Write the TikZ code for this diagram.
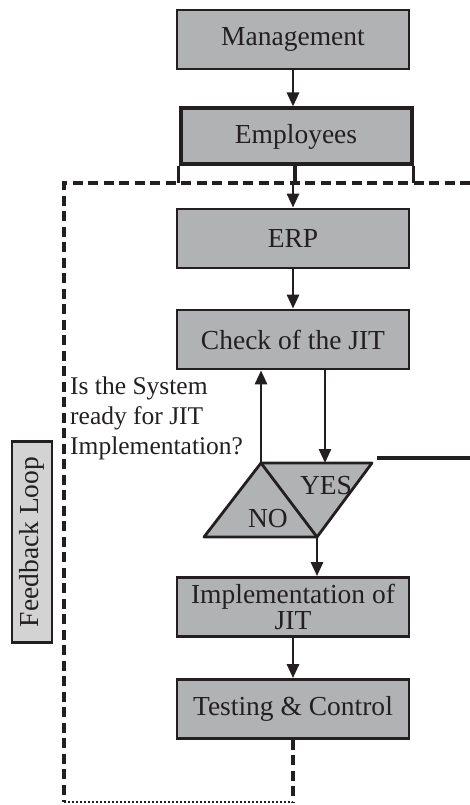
\documentclass[tikz,border=0pt]{standalone}
\usepackage{fontspec}
\setmainfont{Liberation Serif}
\usetikzlibrary{arrows.meta}
\definecolor{boxgray}{HTML}{B1B2B4}
\definecolor{fbgray}{HTML}{D3D3D4}
\definecolor{ink}{HTML}{231F20}
\tikzset{
  stepbox/.style={draw=ink, fill=boxgray, line width=2.8pt, minimum width=232pt, minimum height=59pt, inner sep=2pt, align=center, font=\fontsize{27.5}{27}\selectfont, text=ink},
  arr/.style={draw=ink, line width=2.8pt, -{Triangle[length=14pt,width=12pt]}},
  plain/.style={draw=ink, line width=2.8pt},
  loopdash/.style={draw=ink, line width=3.2pt, dash pattern=on 10pt off 5.5pt},
  loopdot/.style={draw=ink, line width=2.6pt, dash pattern=on 2.2pt off 1.8pt},
}
\begin{document}
\begin{tikzpicture}[x=1pt,y=-1pt]
\useasboundingbox (0,0) rectangle (470,805);
% boxes
\node[stepbox] (mgmt) at (293,39.5) {Management};
\node[stepbox, line width=4pt, minimum width=231pt, minimum height=56pt] (emp) at (296,136.5) {Employees};
\node[stepbox] (erp) at (293,238.5) {ERP};
\node[stepbox] (check) at (293,339.5) {Check of the JIT};
\node[stepbox, font=\fontsize{27.5}{26}\selectfont] (impl) at (293,607) {Implementation of\\JIT};
\node[stepbox] (test) at (293,709) {Testing \& Control};
% feedback loop label
\node[draw=ink, fill=fbgray, line width=2.8pt, rotate=90, minimum width=201pt, minimum height=40pt, inner sep=0pt, font=\fontsize{27.5}{27}\selectfont, text=ink] (fb) at (32,542) {Feedback Loop};
% question
\node[anchor=north west, inner sep=0pt, align=left, font=\fontsize{25.5}{30}\selectfont, text=ink] (q) at (70,377) {Is the System\\ready for JIT\\Implementation?};
% dashed feedback loop
\coordinate (tl) at (64,183);
\coordinate (tr) at (470,183);
\coordinate (bl) at (64,802);
\coordinate (br) at (293,802);
\draw[loopdash] (tr) -- (tl) -- (bl);
\draw[loopdot] (bl) -- (br);
\draw[loopdash] (test.south) -- (br);
% employees legs
\coordinate (leg1) at (emp.south west |- tl);
\coordinate (leg2) at (295,183);
\coordinate (leg3) at (emp.south east |- tl);
\draw[plain, line width=3.5pt] (emp.south west) -- (leg1);
\draw[plain, line width=3.5pt] (emp.south east) -- (leg3);
\draw[plain, line width=3.5pt] (emp.south -| leg2) -- (leg2);
% arrows
\draw[arr] (mgmt.south) -- (mgmt.south |- emp.north);
\draw[arr] (293,183) -- (erp.north);
\draw[arr] (erp.south) -- (check.north);
% decision parallelogram
\coordinate (ptl) at (261,463);
\coordinate (ptr) at (372,463);
\coordinate (pbr) at (317,537);
\coordinate (pbl) at (204,537);
\draw[plain, fill=boxgray, line join=round] (ptl) -- (ptr) -- (pbr) -- (pbl) -- cycle;
\draw[plain] (ptl) -- (pbr);
\node[font=\fontsize{27.5}{27}\selectfont, text=ink] (yes) at (326,486) {YES};
\node[font=\fontsize{27.5}{27}\selectfont, text=ink] (no) at (268,519) {NO};
\coordinate (pdown) at (325,463);
\draw[arr] (ptl) -- (ptl |- check.south);
\draw[arr] (pdown |- check.south) -- (pdown);
\draw[arr] (pbr) -- (pbr |- impl.north);
\draw[arr] (impl.south) -- (test.north);
% yes line to the right
\coordinate (ya) at (377,458);
\coordinate (yb) at (470,458);
\draw[plain, line width=3.5pt] (ya) -- (yb);
\end{tikzpicture}
\end{document}
